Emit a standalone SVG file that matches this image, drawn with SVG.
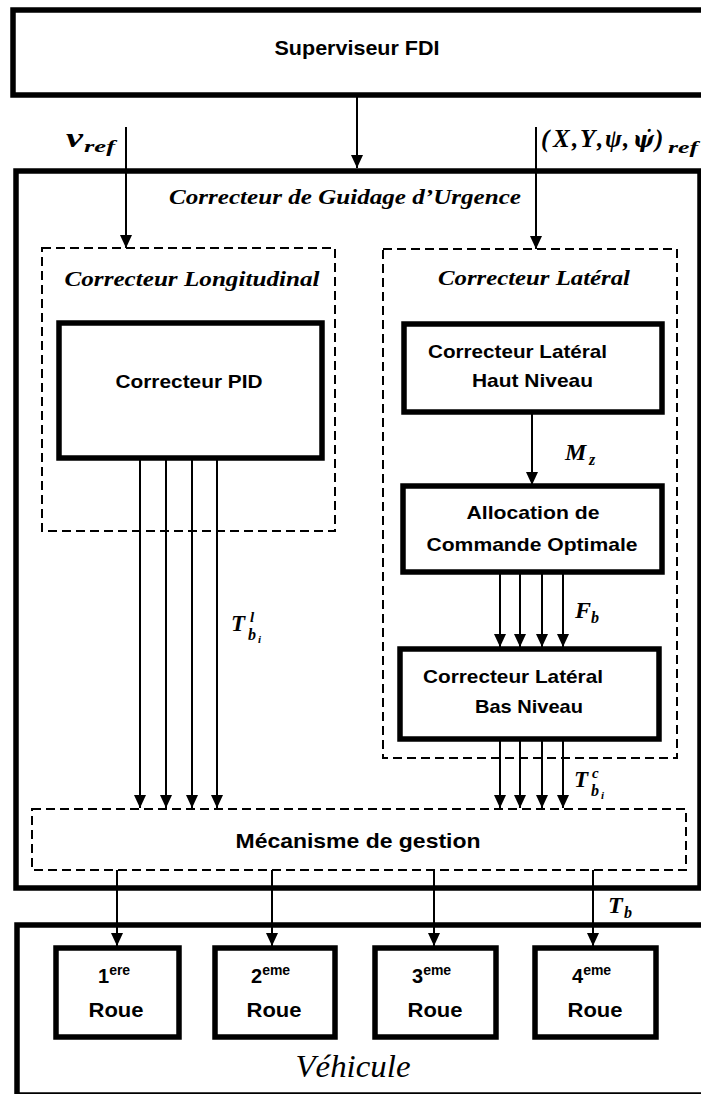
<svg xmlns="http://www.w3.org/2000/svg" width="701" height="1094" viewBox="0 0 701 1094">
<style>
.thick{fill:#fff;stroke:#000;stroke-width:5.5}
.dash{fill:none;stroke:#000;stroke-width:2;stroke-dasharray:9 5}
.arr{stroke:#000;stroke-width:2;fill:none;marker-end:url(#ah)}
.lbl{font-family:"Liberation Sans",Arial,sans-serif;font-weight:bold;fill:#000}
.it{font-family:"Liberation Serif","Times New Roman",serif;font-style:italic;font-weight:bold;fill:#000}
.math{font-family:"Liberation Serif","DejaVu Serif",serif;font-style:italic;font-weight:bold;fill:#000}
</style>
<defs>
<marker id="ah" viewBox="0 0 12 12" refX="12" refY="6" markerWidth="13" markerHeight="12" markerUnits="userSpaceOnUse" orient="auto" preserveAspectRatio="none">
<path d="M0,0 L12,6 L0,12 z" fill="#000"/>
</marker>
</defs>
<rect width="701" height="1094" fill="#fff"/>

<g id="superviseur">
<rect class="thick" x="13" y="10" width="700" height="85"/>
<text class="lbl" x="357" y="55" font-size="21" text-anchor="middle" textLength="165" lengthAdjust="spacingAndGlyphs">Superviseur FDI</text>
</g>

<g id="correcteur-guidage">
<rect class="thick" x="16" y="171" width="684" height="717"/>
<text class="it" x="345" y="204" font-size="22" text-anchor="middle" textLength="352" lengthAdjust="spacingAndGlyphs">Correcteur de Guidage d’Urgence</text>
</g>

<g id="correcteur-longitudinal">
<rect class="dash" x="42" y="248" width="293" height="283"/>
<text class="it" x="192" y="286" font-size="21" text-anchor="middle" textLength="255" lengthAdjust="spacingAndGlyphs">Correcteur Longitudinal</text>
</g>

<g id="pid">
<rect class="thick" x="59" y="323" width="263" height="135"/>
<text class="lbl" x="189" y="388" font-size="19" text-anchor="middle" textLength="147" lengthAdjust="spacingAndGlyphs">Correcteur PID</text>
</g>

<g id="correcteur-lateral">
<rect class="dash" x="383" y="249" width="294" height="509"/>
<text class="it" x="534" y="285" font-size="21" text-anchor="middle" textLength="192" lengthAdjust="spacingAndGlyphs">Correcteur Latéral</text>
</g>

<g id="haut-niveau">
<rect class="thick" x="404" y="324" width="258" height="88"/>
<text class="lbl" x="428" y="358" font-size="19" textLength="179" lengthAdjust="spacingAndGlyphs">Correcteur Latéral</text>
<text class="lbl" x="472" y="387" font-size="19" textLength="121" lengthAdjust="spacingAndGlyphs">Haut Niveau</text>
</g>

<g id="allocation">
<rect class="thick" x="403" y="486" width="259" height="86"/>
<text class="lbl" x="533" y="519" font-size="19" text-anchor="middle" textLength="133" lengthAdjust="spacingAndGlyphs">Allocation de</text>
<text class="lbl" x="532" y="551" font-size="19" text-anchor="middle" textLength="211" lengthAdjust="spacingAndGlyphs">Commande Optimale</text>
</g>

<g id="bas-niveau">
<rect class="thick" x="400" y="649" width="259" height="90"/>
<text class="lbl" x="423" y="683" font-size="19" textLength="180" lengthAdjust="spacingAndGlyphs">Correcteur Latéral</text>
<text class="lbl" x="475" y="713" font-size="19" textLength="108" lengthAdjust="spacingAndGlyphs">Bas Niveau</text>
</g>

<g id="mecanisme">
<rect class="dash" x="32" y="809" width="654" height="61"/>
<text class="lbl" x="358" y="848" font-size="21" text-anchor="middle" textLength="245" lengthAdjust="spacingAndGlyphs">Mécanisme de gestion</text>
</g>

<g id="vehicule">
<rect class="thick" x="17" y="925" width="700" height="170"/>
<text x="353" y="1077" font-family="'Liberation Serif','Times New Roman',serif" font-style="italic" font-size="31" text-anchor="middle" textLength="115" lengthAdjust="spacingAndGlyphs" fill="#000">Véhicule</text>
</g>

<g id="roue1">
<rect class="thick" x="56" y="948" width="123" height="89"/>
<text class="lbl" x="98" y="983" font-size="20">1<tspan font-size="14" dy="-8">ere</tspan></text>
<text class="lbl" x="116" y="1017" font-size="21" text-anchor="middle" textLength="55" lengthAdjust="spacingAndGlyphs">Roue</text>
</g>
<g id="roue2">
<rect class="thick" x="215" y="948" width="120" height="89"/>
<text class="lbl" x="251" y="983" font-size="20">2<tspan font-size="14" dy="-8">eme</tspan></text>
<text class="lbl" x="274" y="1017" font-size="21" text-anchor="middle" textLength="55" lengthAdjust="spacingAndGlyphs">Roue</text>
</g>
<g id="roue3">
<rect class="thick" x="375" y="948" width="121" height="89"/>
<text class="lbl" x="412" y="983" font-size="20">3<tspan font-size="14" dy="-8">eme</tspan></text>
<text class="lbl" x="435" y="1017" font-size="21" text-anchor="middle" textLength="55" lengthAdjust="spacingAndGlyphs">Roue</text>
</g>
<g id="roue4">
<rect class="thick" x="535" y="948" width="121" height="89"/>
<text class="lbl" x="572" y="983" font-size="20">4<tspan font-size="14" dy="-8">eme</tspan></text>
<text class="lbl" x="595" y="1017" font-size="21" text-anchor="middle" textLength="55" lengthAdjust="spacingAndGlyphs">Roue</text>
</g>

<g id="connectors">
<line class="arr" x1="357" y1="95" x2="357" y2="168"/>
<line class="arr" x1="126" y1="127" x2="126" y2="248"/>
<line class="arr" x1="536" y1="127" x2="536" y2="249"/>
<line class="arr" x1="140" y1="458" x2="140" y2="808"/>
<line class="arr" x1="166" y1="458" x2="166" y2="808"/>
<line class="arr" x1="192" y1="458" x2="192" y2="808"/>
<line class="arr" x1="217" y1="458" x2="217" y2="808"/>
<line class="arr" x1="532" y1="412" x2="532" y2="485"/>
<line class="arr" x1="500" y1="572" x2="500" y2="647"/>
<line class="arr" x1="520" y1="572" x2="520" y2="647"/>
<line class="arr" x1="542" y1="572" x2="542" y2="647"/>
<line class="arr" x1="563" y1="572" x2="563" y2="647"/>
<line class="arr" x1="500" y1="739" x2="500" y2="808"/>
<line class="arr" x1="520" y1="739" x2="520" y2="808"/>
<line class="arr" x1="542" y1="739" x2="542" y2="808"/>
<line class="arr" x1="563" y1="739" x2="563" y2="808"/>
<line class="arr" x1="117" y1="870" x2="117" y2="946"/>
<line class="arr" x1="272" y1="870" x2="272" y2="946"/>
<line class="arr" x1="434" y1="870" x2="434" y2="946"/>
<line class="arr" x1="593" y1="870" x2="593" y2="946"/>
</g>

<g id="labels">
<text class="math" x="66" y="147" font-size="28" textLength="17" lengthAdjust="spacingAndGlyphs">v</text>
<text class="math" x="84" y="152" font-size="17" textLength="31" lengthAdjust="spacingAndGlyphs">ref</text>
<text class="math" y="147" font-size="25"><tspan x="541">(</tspan><tspan x="553">X</tspan><tspan x="572">,</tspan><tspan x="580">Y</tspan><tspan x="597">,</tspan><tspan x="605">ψ</tspan><tspan x="623">,</tspan><tspan x="633" font-family="'DejaVu Serif',serif" font-size="22">ψ̇</tspan><tspan x="655">)</tspan></text>
<text class="math" x="668" y="153" font-size="17" textLength="30" lengthAdjust="spacingAndGlyphs">ref</text>
<text class="math" x="565" y="460" font-size="24">M</text>
<text class="math" x="589" y="465" font-size="16">z</text>
<text class="math" x="575" y="618" font-size="24">F</text>
<text class="math" x="591" y="623" font-size="16">b</text>
<text class="math" x="608" y="913" font-size="24">T</text>
<text class="math" x="624" y="918" font-size="16">b</text>
<text class="math" x="231" y="631" font-size="23">T</text>
<text class="math" x="250" y="622" font-size="15">l</text>
<text class="math" x="248" y="640" font-size="16">b</text>
<text class="math" x="258" y="643" font-size="11">i</text>
<text class="math" x="574" y="787" font-size="23">T</text>
<text class="math" x="592" y="778" font-size="15">c</text>
<text class="math" x="591" y="796" font-size="16">b</text>
<text class="math" x="601" y="799" font-size="11">i</text>
</g>
</svg>
